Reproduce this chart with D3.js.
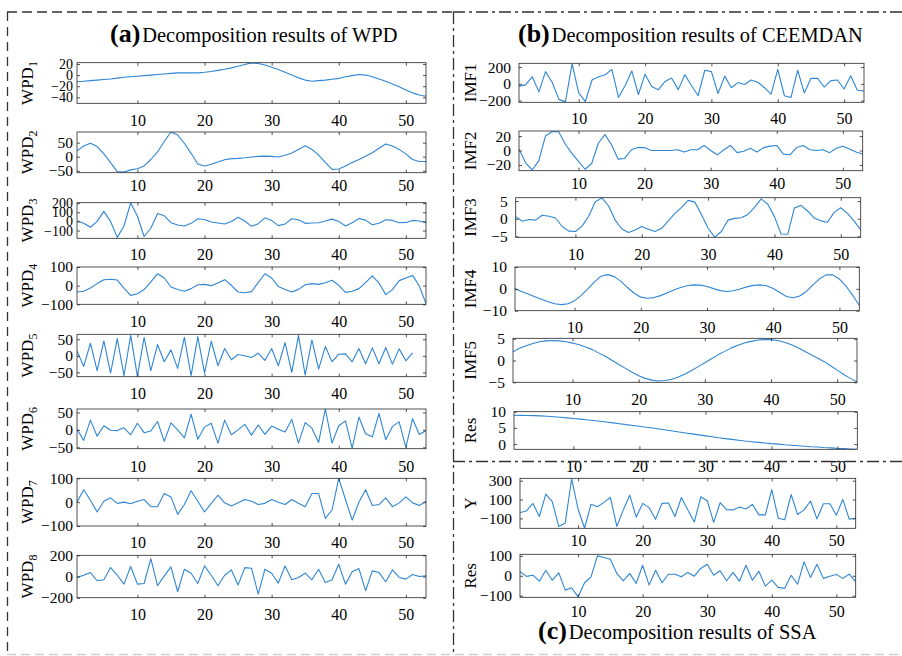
<!DOCTYPE html>
<html>
<head>
<meta charset="utf-8">
<script src="https://cdn.jsdelivr.net/npm/d3@7"></script>
<style>
  body { margin: 0; background: #fff; }
  svg text { font-family: "Liberation Serif", "Times New Roman", serif; fill: #000; }
</style>
</head>
<body>
<svg id="chart" width="902" height="656"></svg>
<script>
// ---- data (x = 1..53) ----
const xTicks = [10, 20, 30, 40, 50];

const wpd1 = [-12,-11,-10,-9,-8,-7,-5.5,-4,-3,-2,-1,0,1,2,3,4,4,4,4,5,6.5,8.5,10.5,13,16,19,22,21,18,14,10,5,0,-5,-9,-11,-10,-9,-7.5,-6,-3,-1,1,0,-3,-7,-11,-16,-21,-27,-32,-36,-38];
const wpd2 = [21,38,48,36,10,-21,-53,-55,-47,-43,-33,-10,17,54,88,77,48,12,-26,-33,-27,-19,-11,-7,-6,-4,-1,1,2,1,-1,5,13,26,39,26,6,-20,-45,-44,-33,-21,-10,2,14,30,45,38,26,10,-10,-17,-17];
const wpd3 = [7,-21,-64,0,110,0,-175,-50,204,57,-165,-75,86,61,-14,-39,-50,-21,29,21,-7,-18,-29,0,46,4,-54,-25,39,11,-46,-29,29,18,-21,-18,-14,4,25,0,-50,-14,32,14,-36,-21,18,11,-14,-11,11,4,-11];
const wpd4 = [-34,-30,-13,11,32,34,30,-13,-52,-43,-21,20,64,41,-7,-21,-30,-16,5,7,0,14,32,2,-34,-38,-32,16,64,41,-5,-21,-34,-20,5,11,7,16,29,2,-36,-30,-16,16,52,14,-48,-21,27,41,55,-2,-96];
const wpd5 = [15,-32,38,-45,45,-52,52,-60,62,-62,56,-45,34,-18,18,-38,56,-60,58,-52,44,-30,22,-12,4,0,-5,8,-14,22,-30,40,-50,62,-58,48,-40,28,-18,5,6,-18,22,-24,24,-24,25,-25,21,-15,9];
const wpd6 = [2,-30,28,-18,12,-1,-2,6,-14,19,-8,-3,24,-33,20,0,-23,45,-27,8,19,-38,28,-14,0,16,-15,14,-13,11,2,-6,30,-38,21,5,-36,60,-38,12,26,-53,37,-11,-20,47,-28,10,23,-50,32,-13,-2];
const wpd7 = [0,52,8,-41,4,18,-5,0,-7,4,11,-19,-19,36,22,-51,-10,48,4,-41,-5,29,-3,-16,-3,11,4,-10,-5,11,0,-10,11,-5,-19,36,36,-68,-33,100,11,-75,0,52,-14,-10,18,-19,-3,22,-3,-14,4];
const wpd8 = [-9,12,37,-40,-31,84,12,-72,94,-72,-66,169,-87,6,91,-144,69,31,-66,100,12,-87,12,62,-81,84,78,-166,69,31,-62,100,-31,-9,31,-31,69,-56,-31,116,-72,44,75,-134,53,37,-50,62,-9,-25,19,0,6];

const imf1 = [-27,-12,85,-96,146,19,-185,-215,240,-108,-212,46,85,108,173,-162,-19,154,-127,115,-31,-69,27,69,-69,108,-23,-142,162,146,-115,92,-46,15,-8,46,19,-46,-123,173,-142,-162,162,-108,65,65,-38,38,46,-62,96,-77,-85];
const imf2 = [2,-17,-27,-14,20,26,26,9,-4,-15,-26,-18,10,22,8,-12,-11,1,4,4,0,0,0,0,1,-2,1,1,7,0,-6,1,7,-3,-1,3,-2,4,6,7,-5,-6,4,7,1,0,1,-3,3,6,2,-2,-5];
const imf3 = [0.6,-0.7,-0.2,-0.4,1.0,0.7,0.2,-2.2,-3.5,-3.6,-2.1,0.7,4.8,5.9,3.6,-0.4,-2.9,-3.9,-3.2,-2.2,-3.0,-3.6,-2.7,-0.6,1.5,3.2,5.2,4.7,1.2,-2.7,-5.2,-3.6,-0.4,0.1,0.3,1.2,3.2,5.6,4.1,0.6,-4.3,-4.4,3.0,3.8,2.2,0.2,-0.6,-1.0,1.8,3.1,1.5,-0.6,-3.2];
const imf4 = [0,-1.2,-2.4,-3.6,-4.8,-5.9,-6.8,-7.2,-6.8,-5.4,-3.0,0.0,3.2,5.8,6.5,5.6,3.4,0.6,-2.0,-3.8,-4.3,-4.0,-3.1,-1.8,-0.5,0.6,1.4,1.8,1.7,1.1,0.1,-0.8,-1.2,-0.9,-0.1,0.9,1.6,1.8,1.4,0.2,-1.7,-3.5,-4.1,-3.3,-1.2,1.8,4.6,6.4,6.4,4.5,1.2,-2.9,-7.6];
const imf5 = [2.0,2.8,3.4,3.9,4.3,4.5,4.6,4.5,4.3,4.0,3.6,3.1,2.5,1.7,0.9,0.0,-0.9,-1.8,-2.7,-3.5,-4.1,-4.5,-4.7,-4.6,-4.3,-3.8,-3.1,-2.3,-1.4,-0.5,0.4,1.3,2.1,2.9,3.5,4.0,4.4,4.7,4.8,4.8,4.6,4.2,3.7,3.0,2.2,1.4,0.6,-0.2,-1.2,-2.2,-3.2,-4.1,-4.9];
const resB = [8.9,8.88,8.85,8.8,8.72,8.6,8.45,8.3,8.1,7.9,7.7,7.5,7.3,7.05,6.8,6.55,6.3,6.0,5.75,5.5,5.2,4.95,4.65,4.35,4.05,3.75,3.45,3.15,2.85,2.55,2.25,1.95,1.7,1.45,1.2,0.95,0.75,0.55,0.35,0.15,0.0,-0.2,-0.35,-0.5,-0.65,-0.8,-0.9,-1.05,-1.15,-1.3,-1.4,-1.5,-1.6];

const ssaY = [-38,-21,59,-80,157,77,-185,-150,320,-3,-202,49,24,70,122,-185,-10,146,-87,59,14,-108,59,63,-80,122,-10,-139,129,87,-143,66,-7,-10,21,0,49,-63,-63,206,-98,-115,153,-59,-10,84,-105,56,56,-66,101,-108,-98];
const ssaRes = [20,-3,3,-27,28,-22,15,-72,-60,-106,-35,-5,100,92,83,12,-25,12,-38,53,-47,28,-35,8,8,-5,17,-2,37,58,3,25,-25,17,-27,53,-22,23,-52,-22,-58,-63,3,-42,70,-8,58,-13,-2,7,-13,8,-30];

// y tick labels
const tWpd1 = [-40,-20,0,20], tWpd2 = [-50,0,50], tWpd3 = [-100,0,100,200], tWpd4 = [-100,0,100];
const tWpd5 = [-50,0,50], tWpd6 = [-50,0,50], tWpd7 = [-100,0,100], tWpd8 = [-200,0,200];
const tImf1 = [-200,0,200], tImf2 = [-20,0,20], tImf3 = [-5,0,5], tImf4 = [-10,0,10], tImf5 = [-5,0,5];
const tResB = [0,5,10], tY = [-100,100,300], tResC = [-100,0,100];

// ---- layout ----
const LINE = '#2f86d4', AX = '#262626';
const svg = d3.select('#chart');

// box = [left, top, right, bottom]; gap = distance from axis to x label centre
const plots = [
  {lab:'WPD', sub:'1', vals:wpd1, dom:[-50.8,22.3], yt:tWpd1, box:[77,62.7,426,103.3], gap:17, col:0},
  {lab:'WPD', sub:'2', vals:wpd2, dom:[-57,88],     yt:tWpd2, box:[77,132,426,172.7],  gap:13, col:0},
  {lab:'WPD', sub:'3', vals:wpd3, dom:[-185,205],   yt:tWpd3, box:[77,202.7,426,238.3],gap:16, col:0},
  {lab:'WPD', sub:'4', vals:wpd4, dom:[-100,100],   yt:tWpd4, box:[77,267,426,304.3],  gap:17, col:0},
  {lab:'WPD', sub:'5', vals:wpd5, dom:[-63,65],     yt:tWpd5, box:[77,334.3,426,376.7],gap:17, col:0},
  {lab:'WPD', sub:'6', vals:wpd6, dom:[-54,60],     yt:tWpd6, box:[77,409,426,448.7],  gap:18, col:0},
  {lab:'WPD', sub:'7', vals:wpd7, dom:[-100,100],   yt:tWpd7, box:[77,478.3,426,526],  gap:17, col:0},
  {lab:'WPD', sub:'8', vals:wpd8, dom:[-200,200],   yt:tWpd8, box:[77,555.3,426,597.7],gap:17, col:0},
  {lab:'IMF1', vals:imf1, dom:[-220,245],  yt:tImf1, box:[519,63.3,864,102.3], gap:16, col:1},
  {lab:'IMF2', vals:imf2, dom:[-28,27],    yt:tImf2, box:[519,131,862.7,170.7], gap:13, col:1},
  {lab:'IMF3', vals:imf3, dom:[-5.25,5.95],yt:tImf3, box:[515.7,197.7,860.7,237.3], gap:17, col:1},
  {lab:'IMF4', vals:imf4, dom:[-10,10],    yt:tImf4, box:[515,267,859.3,310.7], gap:17, col:1},
  {lab:'IMF5', vals:imf5, dom:[-5,5.1],    yt:tImf5, box:[513,338.3,857,382.3], gap:17, col:1},
  {lab:'Res',  vals:resB, dom:[-1.6,10],   yt:tResB, box:[514,411.7,857.3,449.3], gap:17, col:1},
  {lab:'Y',    vals:ssaY, dom:[-205,325],  yt:tY,    box:[520,478.3,855.7,528.3], gap:12, col:1},
  {lab:'Res',  vals:ssaRes, dom:[-108,108],yt:tResC, box:[520,554.3,855.7,597.3], gap:14, col:1}
];

function styleAxis(sel, showText, size) {
  sel.select('.domain').remove();
  sel.selectAll('.tick line').attr('stroke', AX).attr('stroke-width', 0.8);
  sel.selectAll('.tick text').style('font-size', size + 'px').attr('fill', '#000');
  if (!showText) sel.selectAll('.tick text').remove();
}

plots.forEach((p, k) => {
  const [x0, y0, x1, y1] = p.box;
  const x = d3.scaleLinear().domain([1, 53]).range([x0, x1]);
  const y = d3.scaleLinear().domain(p.dom).range([y1, y0]);
  const g = svg.append('g');

  g.append('clipPath').attr('id', 'clip' + k)
    .append('rect').attr('x', x0).attr('y', y0).attr('width', x1 - x0).attr('height', y1 - y0);

  g.append('path')
    .datum(p.vals)
    .attr('clip-path', 'url(#clip' + k + ')')
    .attr('fill', 'none')
    .attr('stroke', LINE)
    .attr('stroke-width', 1.1)
    .attr('stroke-linejoin', 'round')
    .attr('d', d3.line().x((d, i) => x(i + 1)).y(d => y(d)));

  g.append('g').attr('transform', `translate(0,${y1})`)
    .call(d3.axisBottom(x).tickValues(xTicks).tickSize(-3).tickPadding(p.gap - 6))
    .call(s => styleAxis(s, true, 16));
  g.append('g').attr('transform', `translate(0,${y0})`)
    .call(d3.axisTop(x).tickValues(xTicks).tickSize(-3))
    .call(s => styleAxis(s, false, 16));
  // tightly packed ticks (4 labels) get a slightly smaller font
  const ySize = p.yt.length > 3 ? 14 : 15.5;
  g.append('g').attr('transform', `translate(${x0},0)`)
    .call(d3.axisLeft(y).tickValues(p.yt).tickSize(-3).tickPadding(p.col === 0 ? 4 : 8))
    .call(s => styleAxis(s, true, ySize));
  g.append('g').attr('transform', `translate(${x1},0)`)
    .call(d3.axisRight(y).tickValues(p.yt).tickSize(-3))
    .call(s => styleAxis(s, false, 16));

  g.append('rect')
    .attr('x', x0).attr('y', y0).attr('width', x1 - x0).attr('height', y1 - y0)
    .attr('fill', 'none').attr('stroke', AX).attr('stroke-width', 0.8);

  // rotated y label
  const lx = p.col === 0 ? 33 : 476;
  const t = g.append('text')
    .attr('transform', `translate(${lx},${(y0 + y1) / 2}) rotate(-90)`)
    .attr('text-anchor', 'middle')
    .style('font-size', '17px')
    .text(p.lab);
  if (p.sub) t.append('tspan').attr('dy', 4).style('font-size', '12px').text(p.sub);
});

// titles
function title(x, yb, tag, rest) {
  const t = svg.append('text').attr('x', x).attr('y', yb);
  t.append('tspan').style('font-weight', 'bold').style('font-size', '26px').text(tag);
  t.append('tspan').attr('dx', 2).style('font-size', '20.4px').text(rest);
}
title(110, 42, '(a)', 'Decomposition results of WPD');
title(518, 42, '(b)', 'Decomposition results of CEEMDAN');
title(538, 639, '(c)', 'Decomposition results of SSA');

// panel frames
function frame(xa, ya, xb, yb, dash, color) {
  svg.append('line').attr('x1', xa).attr('y1', ya).attr('x2', xb).attr('y2', yb)
    .attr('stroke', color).attr('stroke-width', 1.3).attr('stroke-dasharray', dash);
}
frame(7, 12, 453, 12, '10,5', '#333');
frame(7.5, 12, 7.5, 655, '9,6', '#333');
frame(7, 654.5, 902, 654.5, '9,5', '#cfcfcf');
frame(453, 12, 902, 12, '12,4,3,4', '#333');
frame(453.5, 12, 453.5, 656, '12,4,3,4', '#333');
frame(453, 461.5, 902, 461.5, '12,4,3,4', '#333');
</script>
</body>
</html>
